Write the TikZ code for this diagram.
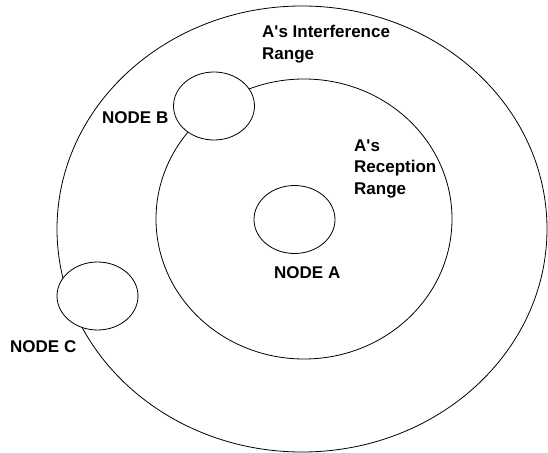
\documentclass[tikz,border=0pt]{standalone}
\usepackage{fontspec}
\setmainfont{Liberation Sans}
\usetikzlibrary{shapes.geometric}
\begin{document}
\begin{tikzpicture}[x=1pt,y=-1pt,
  ring/.style={draw=black,line width=0.8pt,ellipse,inner sep=0pt},
  station/.style={ring,fill=white,minimum width=81pt,minimum height=68pt},
  lbl/.style={anchor=base west,inner sep=0pt,font=\bfseries\fontsize{17}{21.5}\selectfont}]
\useasboundingbox (0,0) rectangle (548,452);
\node[ring,minimum width=490pt,minimum height=446pt] (outer) at (302,229) {};
\node[ring,minimum width=296pt,minimum height=280pt] (inner) at (304,219) {};
\node[station] (A) at (294.5,219.5) {};
\node[station] (B) at (214,106) {};
\node[station] (C) at (97.5,296) {};
\node[lbl] (if1) at (262,37.7) {A\textquotesingle s Interference};
\node[lbl] (if2) at (262,59.2) {Range};
\node[lbl] (rc1) at (354,151) {A\textquotesingle s};
\node[lbl] (rc2) at (354,172.5) {Reception};
\node[lbl] (rc3) at (354,194) {Range};
\node[lbl] (la) at (274,278) {NODE A};
\node[lbl] (lb) at (102,123) {NODE B};
\node[lbl] (lc) at (10,352) {NODE C};
\end{tikzpicture}
\end{document}
